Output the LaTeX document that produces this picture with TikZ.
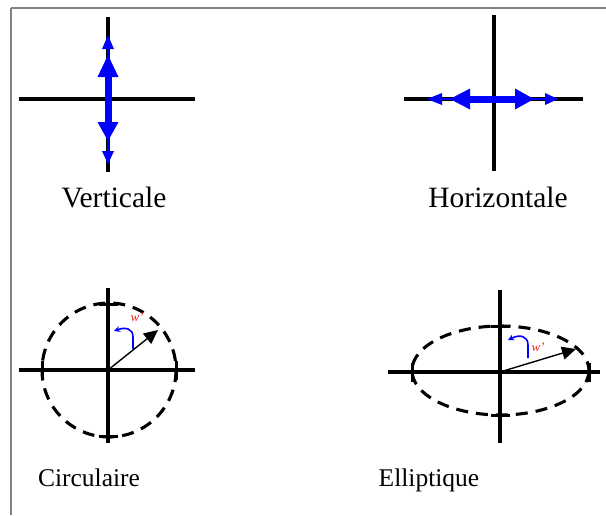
\documentclass[tikz,border=0pt]{standalone}
\usepackage{fontspec}
\setmainfont{Liberation Serif}
\usetikzlibrary{arrows.meta}
\definecolor{framegray}{RGB}{130,130,130}
\definecolor{wblue}{RGB}{0,0,255}
\definecolor{wred}{RGB}{240,40,30}
\tikzset{
  axis/.style={line width=3.3pt,black},
  tick/.style={line width=3pt,black},
  orbit/.style={line width=3.1pt,black,dash pattern=on 12pt off 8pt},
  bigtip/.style={fill=wblue,draw=none},
  thinblue/.style={line width=2.6pt,wblue},
  thickblue/.style={line width=7pt,wblue},
  vec/.style={line width=1.4pt,black,-{Triangle[length=14pt,width=13pt]}},
  rot/.style={line width=1.6pt,wblue,-{Stealth[length=6pt,width=6pt]}},
  lbltop/.style={anchor=base,font=\fontsize{29.5}{31}\selectfont},
  lblbot/.style={anchor=base,font=\fontsize{25.5}{28}\selectfont},
  wlabel/.style={text=wred,font=\fontsize{13}{13}\selectfont\itshape,inner sep=0pt}
}
\begin{document}
\begin{tikzpicture}[x=1pt,y=-1pt]
\useasboundingbox[fill=white] (0,0) rectangle (606,515);
% frame
\draw[framegray,line width=2.4pt] (11,8) -- (606,8);
\draw[framegray,line width=2.4pt] (11,8) -- (11,515);

% ---------- Verticale ----------
\draw[axis] (19,99) -- (195,99);
\draw[axis] (108,17) -- (108,172);
\draw[thinblue] (108,40) -- (108,158);
\draw[thickblue] (108,74) -- (108,125);
\fill[bigtip] (108,35) -- (102,49) -- (114,49) -- cycle;
\fill[bigtip] (108,55) -- (97.5,77) -- (118.5,77) -- cycle;
\fill[bigtip] (108,141) -- (97.5,122) -- (118.5,122) -- cycle;
\fill[bigtip] (108,164) -- (102,151) -- (114,151) -- cycle;
\node[lbltop] (lv) at (114,207) {Verticale};

% ---------- Horizontale ----------
\draw[axis] (404,99) -- (583,99);
\draw[axis] (494,15) -- (494,171);
\draw[thinblue] (432,99) -- (553,99);
\draw[thickblue] (467,99) -- (518,99);
\fill[bigtip] (427,99) -- (442,93) -- (442,105) -- cycle;
\fill[bigtip] (450,99) -- (470,88.5) -- (470,109.5) -- cycle;
\fill[bigtip] (534,99) -- (515,88.5) -- (515,109.5) -- cycle;
\fill[bigtip] (558,99) -- (545,93) -- (545,105) -- cycle;
\node[lbltop] (lh) at (498,207) {Horizontale};

% ---------- Circulaire ----------
\coordinate (cc) at (109,370);
\draw[orbit] (cc) circle[radius=67];
\draw[axis] (19,370) -- (195,370);
\draw[axis] (108,288) -- (108,443);
\draw[tick] (99,304) -- (118,304);
\draw[tick] (99,436) -- (118,436);
\draw[tick] (42,361) -- (42,380);
\draw[tick] (176,361) -- (176,380);
\coordinate (cO) at (108,370);
\coordinate (cV) at (158,330);
\draw[vec] (cO) -- (cV);
\coordinate (cr1) at (133,349);
\coordinate (cr2) at (114,331);
\draw[rot] (cr1) -- (133,337) .. controls (133,328) and (125,327) .. (cr2);
\node[wlabel] (cw) at (137,317) {w'};
\node[lblbot] (lc) at (89,486) {Circulaire};

% ---------- Elliptique ----------
\coordinate (ec) at (500.5,370.5);
\draw[orbit] (ec) ellipse[x radius=88.5,y radius=44.5];
\draw[axis] (388,372) -- (600,372);
\draw[axis] (500,290) -- (500,443);
\draw[tick] (491,326) -- (510,326);
\draw[tick] (491,415) -- (510,415);
\draw[tick] (412,363) -- (412,382);
\draw[tick] (589,363) -- (589,382);
\coordinate (eO) at (500,372);
\coordinate (eV) at (576,349);
\draw[vec] (eO) -- (eV);
\coordinate (er1) at (528,358);
\coordinate (er2) at (508,340);
\draw[rot] (er1) -- (528,345) .. controls (528,336) and (520,334) .. (er2);
\node[wlabel] (ew) at (538,347) {w'};
\node[lblbot] (le) at (429,486) {Elliptique};
\end{tikzpicture}
\end{document}
